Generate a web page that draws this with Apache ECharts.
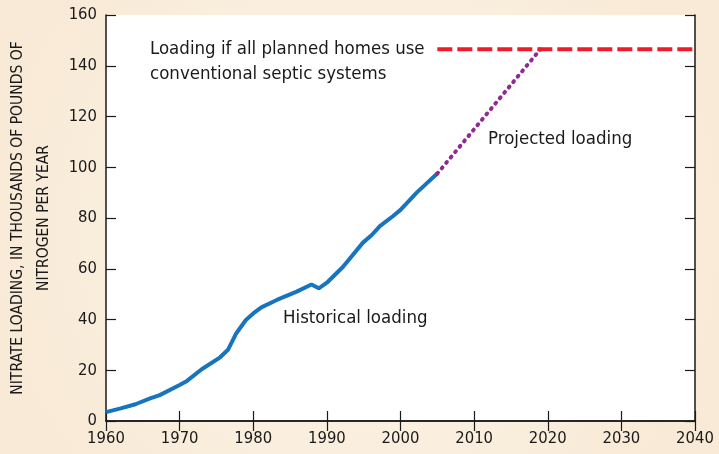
<!DOCTYPE html>
<html>
<head>
<meta charset="utf-8">
<script src="https://cdn.jsdelivr.net/npm/echarts@6/dist/echarts.min.js"></script>
<style>
  html, body { margin: 0; padding: 0; }
  #main { width: 719px; height: 454px; }
</style>
</head>
<body>
<div id="main"></div>
<script>
  // historical nitrate loading, thousands of lb N per year
  var histYears = [1960, 1962, 1964, 1966, 1967.3, 1970, 1971, 1973, 1975.5, 1976.6, 1977.7, 1979, 1980, 1981.1, 1983.2, 1985.9, 1987.9, 1988.9, 1990, 1992.2, 1994.9, 1996.1, 1997.2, 1999, 2000, 2002.2, 2005];
  var histValues = [3.5, 5, 6.6, 8.9, 10.2, 14.2, 15.8, 20.4, 25.1, 28.2, 34.6, 39.8, 42.4, 44.8, 47.7, 51, 53.8, 52.3, 54.5, 60.8, 70.3, 73.3, 76.8, 80.8, 83.2, 90, 97.5];
  // projected loading
  var projYears = [2005, 2019];
  var projValues = [97.5, 146.5];
  // loading if all planned homes use septic systems
  var septicYears = [2005, 2040];
  var septicValues = [146.5, 146.5];

  var yTicks = [0, 20, 40, 60, 80, 100, 120, 140, 160];
  var xTicks = [1960, 1970, 1980, 1990, 2000, 2010, 2020, 2030, 2040];

  function pairs(xs, ys) {
    var out = [];
    for (var i = 0; i < xs.length; i++) out.push([xs[i], ys[i]]);
    return out;
  }

  var font = '"Liberation Sans Narrow", "DejaVu Sans Condensed", sans-serif';
  var ink = '#1a1a1a';

  var myChart = echarts.init(document.getElementById('main'));
  myChart.setOption({
    backgroundColor: {
      type: 'radial', x: 0.5, y: 0.5, r: 0.8,
      colorStops: [{offset: 0, color: '#FDF6EC'}, {offset: 1, color: '#F8EAD6'}]
    },
    animation: false,
    grid: {
      left: 106, right: 24, top: 15, bottom: 33,
      show: true, backgroundColor: '#fff', borderWidth: 0,
      outerBoundsMode: 'none'
    },
    xAxis: [{
      type: 'value', min: xTicks[0], max: xTicks[xTicks.length - 1], interval: 10,
      axisLine: {lineStyle: {color: ink, width: 1.5}},
      axisTick: {inside: true, length: 10, lineStyle: {color: ink, width: 1.2}},
      axisLabel: {color: ink, fontFamily: font, fontSize: 16.5, margin: 9, formatter: function (v) { return String(v); }},
      splitLine: {show: false}
    }, {
      type: 'value', position: 'top', min: xTicks[0], max: xTicks[xTicks.length - 1], interval: 10,
      axisLine: {lineStyle: {color: ink, width: 1.5}},
      axisTick: {inside: true, length: 10, lineStyle: {color: ink, width: 1.2}},
      axisLabel: {show: false},
      splitLine: {show: false}
    }],
    yAxis: [{
      type: 'value', min: yTicks[0], max: yTicks[yTicks.length - 1], interval: 20,
      name: 'NITRATE LOADING, IN THOUSANDS OF POUNDS OF\nNITROGEN PER YEAR',
      nameLocation: 'middle', nameGap: 49, nameRotate: 90,
      nameTextStyle: {color: ink, fontFamily: font, fontSize: 15.5, lineHeight: 26, align: 'center'},
      axisLine: {lineStyle: {color: ink, width: 1.5}},
      axisTick: {inside: true, length: 10, lineStyle: {color: ink, width: 1.2}},
      axisLabel: {color: ink, fontFamily: font, fontSize: 16.5, margin: 9},
      splitLine: {show: false}
    }, {
      type: 'value', position: 'right', min: yTicks[0], max: yTicks[yTicks.length - 1], interval: 20,
      axisLine: {lineStyle: {color: ink, width: 1.5}},
      axisTick: {inside: true, length: 10, lineStyle: {color: ink, width: 1.2}},
      axisLabel: {show: false},
      splitLine: {show: false}
    }],
    series: [
      {
        name: 'Historical loading', type: 'line', showSymbol: false,
        lineStyle: {color: '#1874BF', width: 4},
        data: pairs(histYears, histValues)
      },
      {
        name: 'Projected loading', type: 'line', showSymbol: false,
        lineStyle: {color: '#8E2A92', width: 4, type: [1, 6], cap: 'round'},
        data: pairs(projYears, projValues)
      },
      {
        name: 'Conventional septic', type: 'line', showSymbol: false,
        lineStyle: {color: '#EC1C2A', width: 4, type: [15, 5]},
        data: pairs(septicYears, septicValues)
      }
    ],
    graphic: [
      {type: 'text', left: 150, top: 37, style: {text: 'Loading if all planned homes use\nconventional septic systems', fill: ink, font: '18.5px ' + font, lineHeight: 25}},
      {type: 'text', left: 488, top: 130, style: {text: 'Projected loading', fill: ink, font: '18.5px ' + font}},
      {type: 'text', left: 283, top: 309, style: {text: 'Historical loading', fill: ink, font: '18.5px ' + font}}
    ]
  });
</script>
</body>
</html>
